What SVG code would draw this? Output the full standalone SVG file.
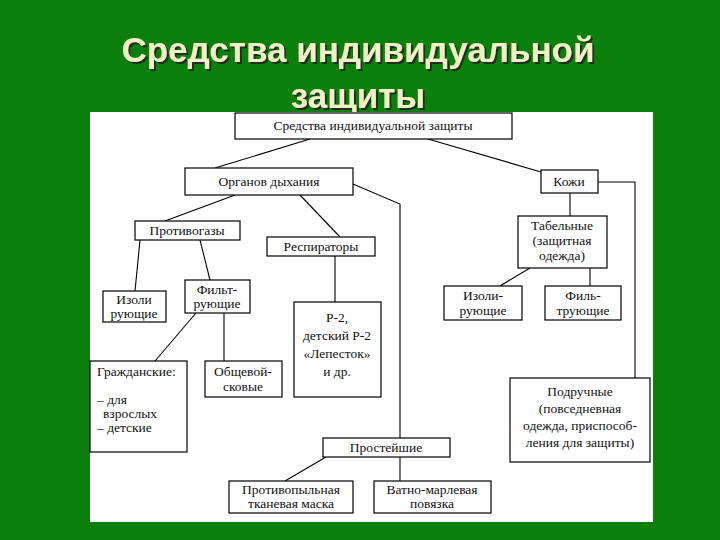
<svg xmlns="http://www.w3.org/2000/svg" width="720" height="540" viewBox="0 0 720 540">
<defs><filter id="sh" x="-5%" y="-20%" width="110%" height="140%"><feDropShadow dx="2" dy="2" stdDeviation="0.6" flood-color="#222" flood-opacity="0.9"/></filter></defs>
<style>
.b{fill:#fff;stroke:#000;stroke-width:1.2}
.t{font-family:"Liberation Serif","DejaVu Serif","Times New Roman",serif;font-size:13.5px;fill:#111;text-anchor:middle}
.l{font-family:"Liberation Serif","DejaVu Serif","Times New Roman",serif;font-size:13.5px;fill:#111}
.c line,.c polyline{stroke:#000;stroke-width:1.1;fill:none}
.h{font-family:"Liberation Sans",Arial,sans-serif;font-weight:bold;font-size:35px;text-anchor:middle;fill:#eef2c4;filter:url(#sh)}
</style>
<rect width="720" height="540" fill="#0b7f0b"/>
<text class="h" x="358" y="62">Средства индивидуальной</text>
<text class="h" x="358" y="108">защиты</text>
<rect x="90" y="112" width="563" height="410" fill="#fff"/>
<g class="c">
<line x1="310" y1="139" x2="215" y2="168"/>
<line x1="428" y1="139" x2="541" y2="172"/>
<polyline points="353,184 400,204 400,438"/>
<line x1="235" y1="195" x2="165" y2="221"/>
<line x1="300" y1="195" x2="340" y2="237"/>
<line x1="140" y1="240" x2="135" y2="291"/>
<line x1="200" y1="240" x2="210" y2="280"/>
<line x1="335" y1="256" x2="335" y2="302"/>
<line x1="196" y1="313" x2="155" y2="361"/>
<line x1="224" y1="313" x2="224" y2="361"/>
<polyline points="598,182 635,182 635,378"/>
<line x1="570" y1="193" x2="570" y2="216"/>
<line x1="530" y1="268" x2="500" y2="286"/>
<line x1="590" y1="268" x2="590" y2="286"/>
<line x1="326" y1="457" x2="285" y2="481"/>
<line x1="400" y1="457" x2="400" y2="481"/>
</g>
<g id="top"><rect class="b" x="235" y="113" width="277" height="26"/><text class="t" x="373" y="130">Средства индивидуальной защиты</text></g>
<g id="organ"><rect class="b" x="185" y="168" width="168" height="27"/><text class="t" x="269" y="186">Органов дыхания</text></g>
<g id="kozhi"><rect class="b" x="541" y="170" width="57" height="23"/><text class="t" x="569" y="186">Кожи</text></g>
<g id="protivogazy"><rect class="b" x="135" y="221" width="105" height="19"/><text class="t" x="187" y="235">Противогазы</text></g>
<g id="respiratory"><rect class="b" x="267" y="237" width="108" height="19"/><text class="t" x="321" y="251">Респираторы</text></g>
<g id="tabel"><rect class="b" x="518" y="216" width="89" height="52"/><text class="t" x="562" y="230">Табельные</text><text class="t" x="562" y="245">(защитная</text><text class="t" x="562" y="260">одежда)</text></g>
<g id="izol1"><rect class="b" x="103" y="291" width="63" height="31"/><text class="t" x="134" y="304">Изоли</text><text class="t" x="134" y="318">рующие</text></g>
<g id="filt1"><rect class="b" x="185" y="280" width="65" height="33"/><text class="t" x="217" y="294">Фильт-</text><text class="t" x="217" y="308">рующие</text></g>
<g id="r2"><rect class="b" x="294" y="302" width="87" height="95"/><text class="t" x="337" y="322">Р-2,</text><text class="t" x="337" y="340">детский Р-2</text><text class="t" x="337" y="358">«Лепесток»</text><text class="t" x="337" y="376">и др.</text></g>
<g id="izol2"><rect class="b" x="444" y="286" width="78" height="34"/><text class="t" x="483" y="300">Изоли-</text><text class="t" x="483" y="315">рующие</text></g>
<g id="filt2"><rect class="b" x="545" y="286" width="76" height="34"/><text class="t" x="583" y="300">Филь-</text><text class="t" x="583" y="315">трующие</text></g>
<g id="grazh"><rect class="b" x="90" y="361" width="97" height="91"/><text class="l" x="97" y="376">Гражданские:</text><text class="l" x="97" y="404">– для</text><text class="l" x="103" y="418">взрослых</text><text class="l" x="97" y="432">– детские</text></g>
<g id="obsh"><rect class="b" x="205" y="361" width="77" height="36"/><text class="t" x="243" y="376">Общевой-</text><text class="t" x="243" y="391">сковые</text></g>
<g id="podr"><rect class="b" x="510" y="378" width="140" height="84"/><text class="t" x="580" y="396">Подручные</text><text class="t" x="580" y="413">(повседневная</text><text class="t" x="580" y="430">одежда, приспособ-</text><text class="t" x="580" y="447">ления для защиты)</text></g>
<g id="prost"><rect class="b" x="323" y="438" width="127" height="19"/><text class="t" x="386" y="452">Простейшие</text></g>
<g id="pyl"><rect class="b" x="229" y="481" width="124" height="32"/><text class="t" x="291" y="494">Противопыльная</text><text class="t" x="291" y="508">тканевая маска</text></g>
<g id="vatno"><rect class="b" x="374" y="481" width="117" height="32"/><text class="t" x="432" y="494">Ватно-марлевая</text><text class="t" x="432" y="508">повязка</text></g>
</svg>
